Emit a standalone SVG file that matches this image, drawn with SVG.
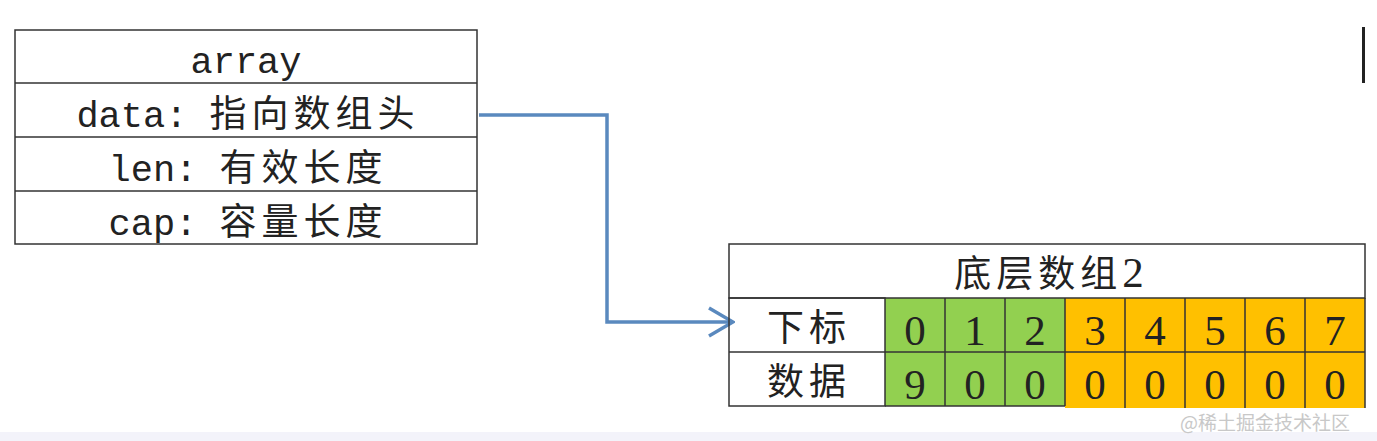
<svg xmlns="http://www.w3.org/2000/svg" width="1377" height="441" viewBox="0 0 1377 441">
<style>
.cell{stroke:#333;stroke-width:1.5}
.t{font-family:"Liberation Mono","Noto Sans CJK SC",monospace;font-size:37px;fill:#222;text-anchor:middle}
.cjk{font-family:"Noto Sans CJK SC",sans-serif;font-size:37px;letter-spacing:5px}
.d{font-family:"Liberation Serif","Noto Sans CJK SC",serif;font-size:43px;fill:#222;text-anchor:middle}
.c2{font-family:"Noto Sans CJK SC",sans-serif;font-size:37px;fill:#222;text-anchor:middle;letter-spacing:5px}
</style>
<defs>
<marker id="arr" viewBox="0 0 28 32" refX="26" refY="16" markerWidth="28" markerHeight="32" markerUnits="userSpaceOnUse" orient="auto">
<path d="M2,2 L26,16 L2,30" fill="none" stroke="#5a89be" stroke-width="3.5"/>
</marker>
</defs>
<rect width="1377" height="441" fill="#fff"/>
<rect x="0" y="432" width="1377" height="9" fill="#f3f3fa"/>
<rect x="1362" y="27" width="3" height="56" fill="#222"/>

<g id="array">
<rect class="cell" x="15" y="30" width="462" height="214" fill="#fff"/>
<line class="cell" x1="15" y1="83" x2="477" y2="83"/>
<line class="cell" x1="15" y1="137" x2="477" y2="137"/>
<line class="cell" x1="15" y1="191" x2="477" y2="191"/>
<text class="t" x="246" y="73">array</text>
<text class="t" x="248" y="127">data: <tspan class="cjk">指向数组头</tspan></text>
<text class="t" x="248" y="181">len: <tspan class="cjk">有效长度</tspan></text>
<text class="t" x="248" y="235">cap: <tspan class="cjk">容量长度</tspan></text>
</g>

<g id="connectors">
<path d="M479,115 H607 V322 H733" fill="none" stroke="#5a89be" stroke-width="3.5" marker-end="url(#arr)"/>
</g>

<g id="underlying-array">
<rect x="1065" y="298" width="300" height="110" fill="#ffc000"/>
<rect x="885" y="298" width="180" height="108" fill="#92d050"/>
<rect class="cell" x="729" y="244" width="636" height="54" fill="#fff"/>
<rect class="cell" x="729" y="298" width="156" height="108" fill="none"/>
<line class="cell" x1="729" y1="352" x2="1365" y2="352"/>
<line class="cell" x1="885" y1="406" x2="1065" y2="406"/>
<line class="cell" x1="1365" y1="298" x2="1365" y2="408"/>
<g class="cell">
<line x1="945" y1="298" x2="945" y2="406"/>
<line x1="1005" y1="298" x2="1005" y2="406"/>
<line x1="1065" y1="298" x2="1065" y2="406"/>
<line x1="1125" y1="298" x2="1125" y2="408"/>
<line x1="1185" y1="298" x2="1185" y2="408"/>
<line x1="1245" y1="298" x2="1245" y2="408"/>
<line x1="1305" y1="298" x2="1305" y2="408"/>
</g>
<text class="c2" x="1049" y="287">底层数组<tspan class="d" style="font-size:43px;letter-spacing:0">2</tspan></text>
<text class="c2" x="809" y="341">下标</text>
<text class="c2" x="809" y="395">数据</text>
<text class="d" x="915" y="345">0</text>
<text class="d" x="975" y="345">1</text>
<text class="d" x="1035" y="345">2</text>
<text class="d" x="1095" y="345">3</text>
<text class="d" x="1155" y="345">4</text>
<text class="d" x="1215" y="345">5</text>
<text class="d" x="1275" y="345">6</text>
<text class="d" x="1335" y="345">7</text>
<text class="d" x="915" y="399">9</text>
<text class="d" x="975" y="399">0</text>
<text class="d" x="1035" y="399">0</text>
<text class="d" x="1095" y="399">0</text>
<text class="d" x="1155" y="399">0</text>
<text class="d" x="1215" y="399">0</text>
<text class="d" x="1275" y="399">0</text>
<text class="d" x="1335" y="399">0</text>
</g>
<text x="1350" y="430" style="font-family:'Noto Sans CJK SC',sans-serif;font-size:19px;fill:#c8c8c8;text-anchor:end">@稀土掘金技术社区</text>
</svg>
